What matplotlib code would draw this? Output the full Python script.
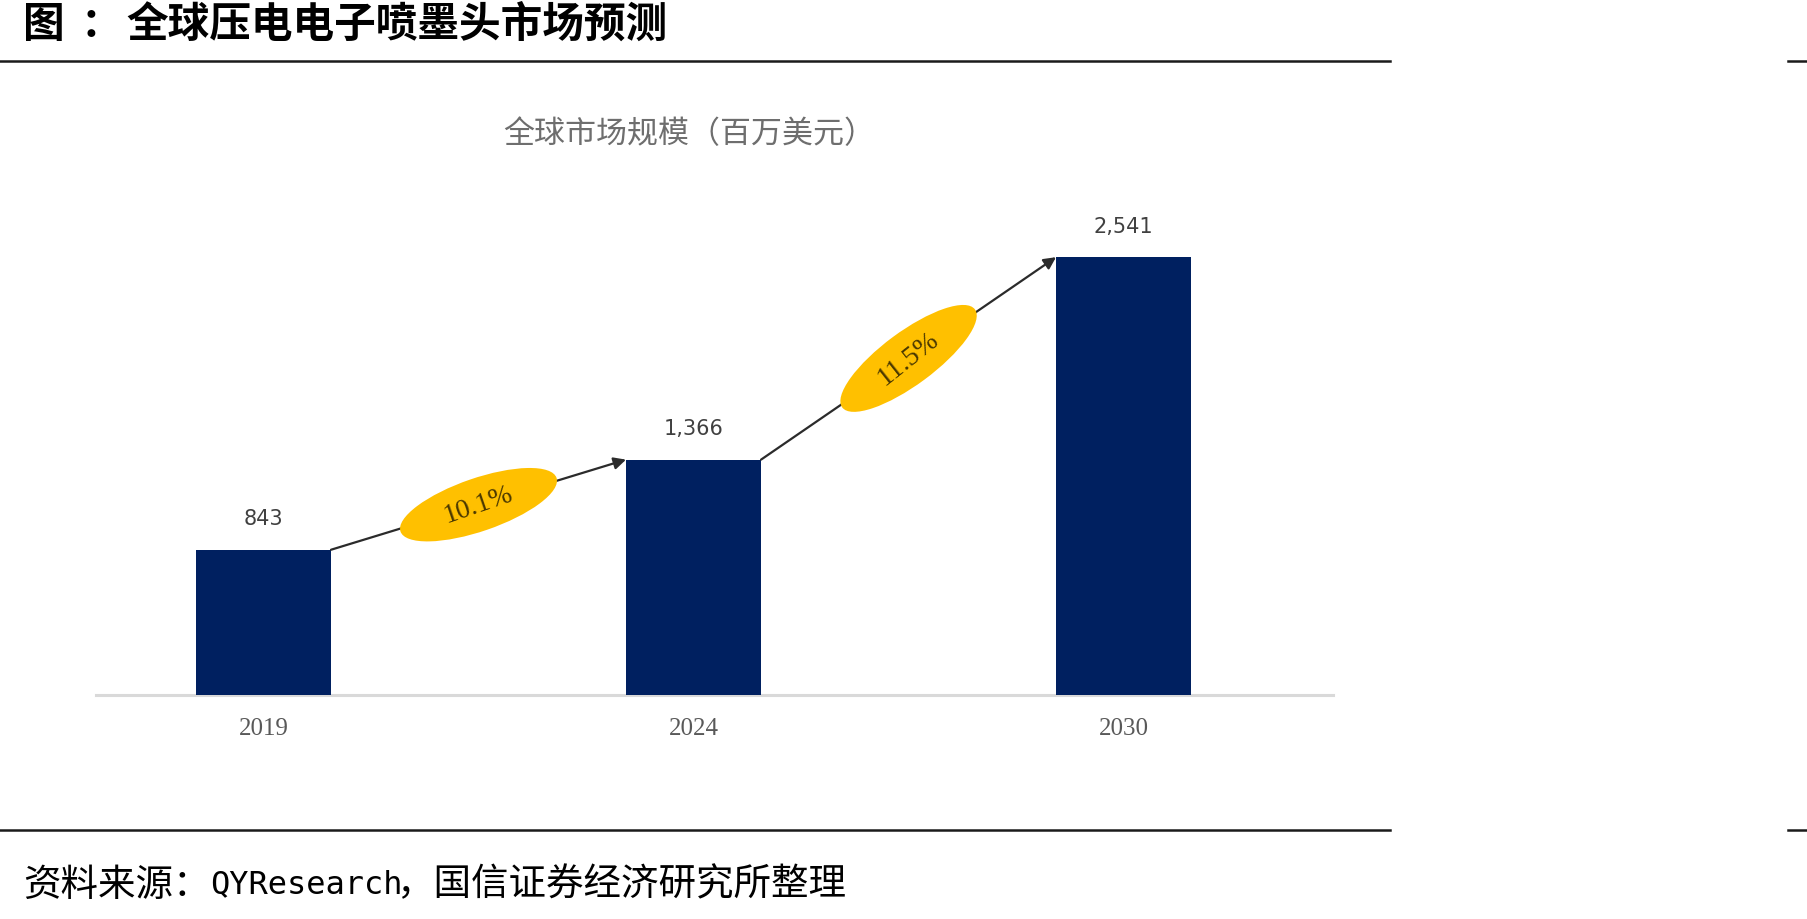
import math
import matplotlib
matplotlib.use('Agg')
import matplotlib.pyplot as plt
from matplotlib.patches import Ellipse
from matplotlib.lines import Line2D
from matplotlib.transforms import ScaledTranslation
import numpy as np

plt.rcParams['font.family'] = ['Noto Sans CJK SC', 'DejaVu Sans']

# ---- data ----
years = ['2019', '2024', '2030']
values = [843, 1366, 2541]
value_labels = ['843', '1,366', '2,541']
cagr_labels = ['10.1%', '11.5%']

title_prefix = '图'
title_colon = '：'
title_main = '全球压电电子喷墨头市场预测'
chart_title = '全球市场规模（百万美元）'
source_head = '资料来源：'
source_latin = 'QYResearch'
source_tail = '，国信证券经济研究所整理'

# ---- figure ----
W, H = 1807, 919
DPI = 100
fig = plt.figure(figsize=(W / DPI, H / DPI), dpi=DPI)
fig.patch.set_facecolor('white')

ax = fig.add_axes([96 / W, 1 - 695 / H, (1333 - 96) / W, 545 / H])
x = np.arange(len(years))
bw = 0.314
ax.bar(x, values, width=bw, color='#002060', zorder=3)
ax.set_xlim(-0.3895, 2.487)
ax.set_ylim(0, 3163)
for s in ['top', 'right', 'left']:
    ax.spines[s].set_visible(False)
ax.spines['bottom'].set_color('#d9d9d9')
ax.spines['bottom'].set_linewidth(2.2)
ax.set_yticks([])
ax.set_xticks(x, years)
for t in ax.get_xticklabels():
    t.set_fontfamily('Liberation Serif')
    t.set_fontsize(18)
    t.set_color('#595959')
ax.tick_params(axis='x', length=0, pad=16.5)

# value labels
for xi, v, lbl in zip(x, values, value_labels):
    ax.annotate(lbl, (xi, v), xytext=(0, 22), textcoords='offset points',
                ha='center', va='center', fontsize=15, color='#404040',
                family=['DejaVu Sans'])

# growth arrows with CAGR ellipses
extra_rot = [2, 4]
for i, lbl in enumerate(cagr_labels):
    start = (x[i] + bw / 2, values[i])
    end = (x[i + 1] - bw / 2, values[i + 1])
    ax.annotate('', xy=end, xytext=start,
                arrowprops=dict(arrowstyle='-|>', color='#2b2b2b', lw=1.6,
                                shrinkA=0, shrinkB=0, mutation_scale=18),
                zorder=4)
    p0 = ax.transData.transform(start)
    p1 = ax.transData.transform(end)
    ang = math.degrees(math.atan2(p1[1] - p0[1], p1[0] - p0[0]))
    mx, my = (start[0] + end[0]) / 2, (start[1] + end[1]) / 2
    ell = Ellipse((0, 0), width=165, height=53, angle=ang + 2,
                  transform=ScaledTranslation(mx, my, ax.transData),
                  facecolor='#FFC000', edgecolor='none', zorder=5)
    ax.add_artist(ell)
    ax.text(mx, my, lbl, rotation=ang + extra_rot[i], rotation_mode='anchor',
            ha='center', va='center', fontfamily='Liberation Serif',
            fontsize=20, color='#4a3800', zorder=6)

# ---- figure decorations ----
ty = 1 - 25 / H
fig.text(23 / W, ty, title_prefix, fontsize=30, fontweight='bold',
         va='center', ha='left', color='black')
fig.text(81 / W, ty, title_colon, fontsize=30, fontweight='bold',
         va='center', ha='left', color='black')
fig.text(126 / W, ty, title_main, fontsize=30, fontweight='bold',
         va='center', ha='left', color='black')

fig.text(689 / W, 1 - 135 / H, chart_title, ha='center', va='center',
         fontsize=22.3, color='#6e6e6e')

fy = 1 - 885 / H
fig.text(23 / W, fy, source_head, fontsize=27, va='center', ha='left',
         color='black')
fig.text(210 / W, fy, source_latin, fontsize=23, va='center', ha='left',
         color='black', family=['DejaVu Sans Mono'])
fig.text(397 / W, fy, source_tail, fontsize=27, va='center', ha='left',
         color='black')

for yy in (61, 830):
    fig.add_artist(Line2D([0, 1390 / W], [1 - yy / H] * 2, color='#1a1a1a',
                          lw=1.8, transform=fig.transFigure))
    fig.add_artist(Line2D([1788 / W, 1], [1 - yy / H] * 2, color='#1a1a1a',
                          lw=1.8, transform=fig.transFigure))

fig.savefig('out.png', dpi=DPI, facecolor='white')
